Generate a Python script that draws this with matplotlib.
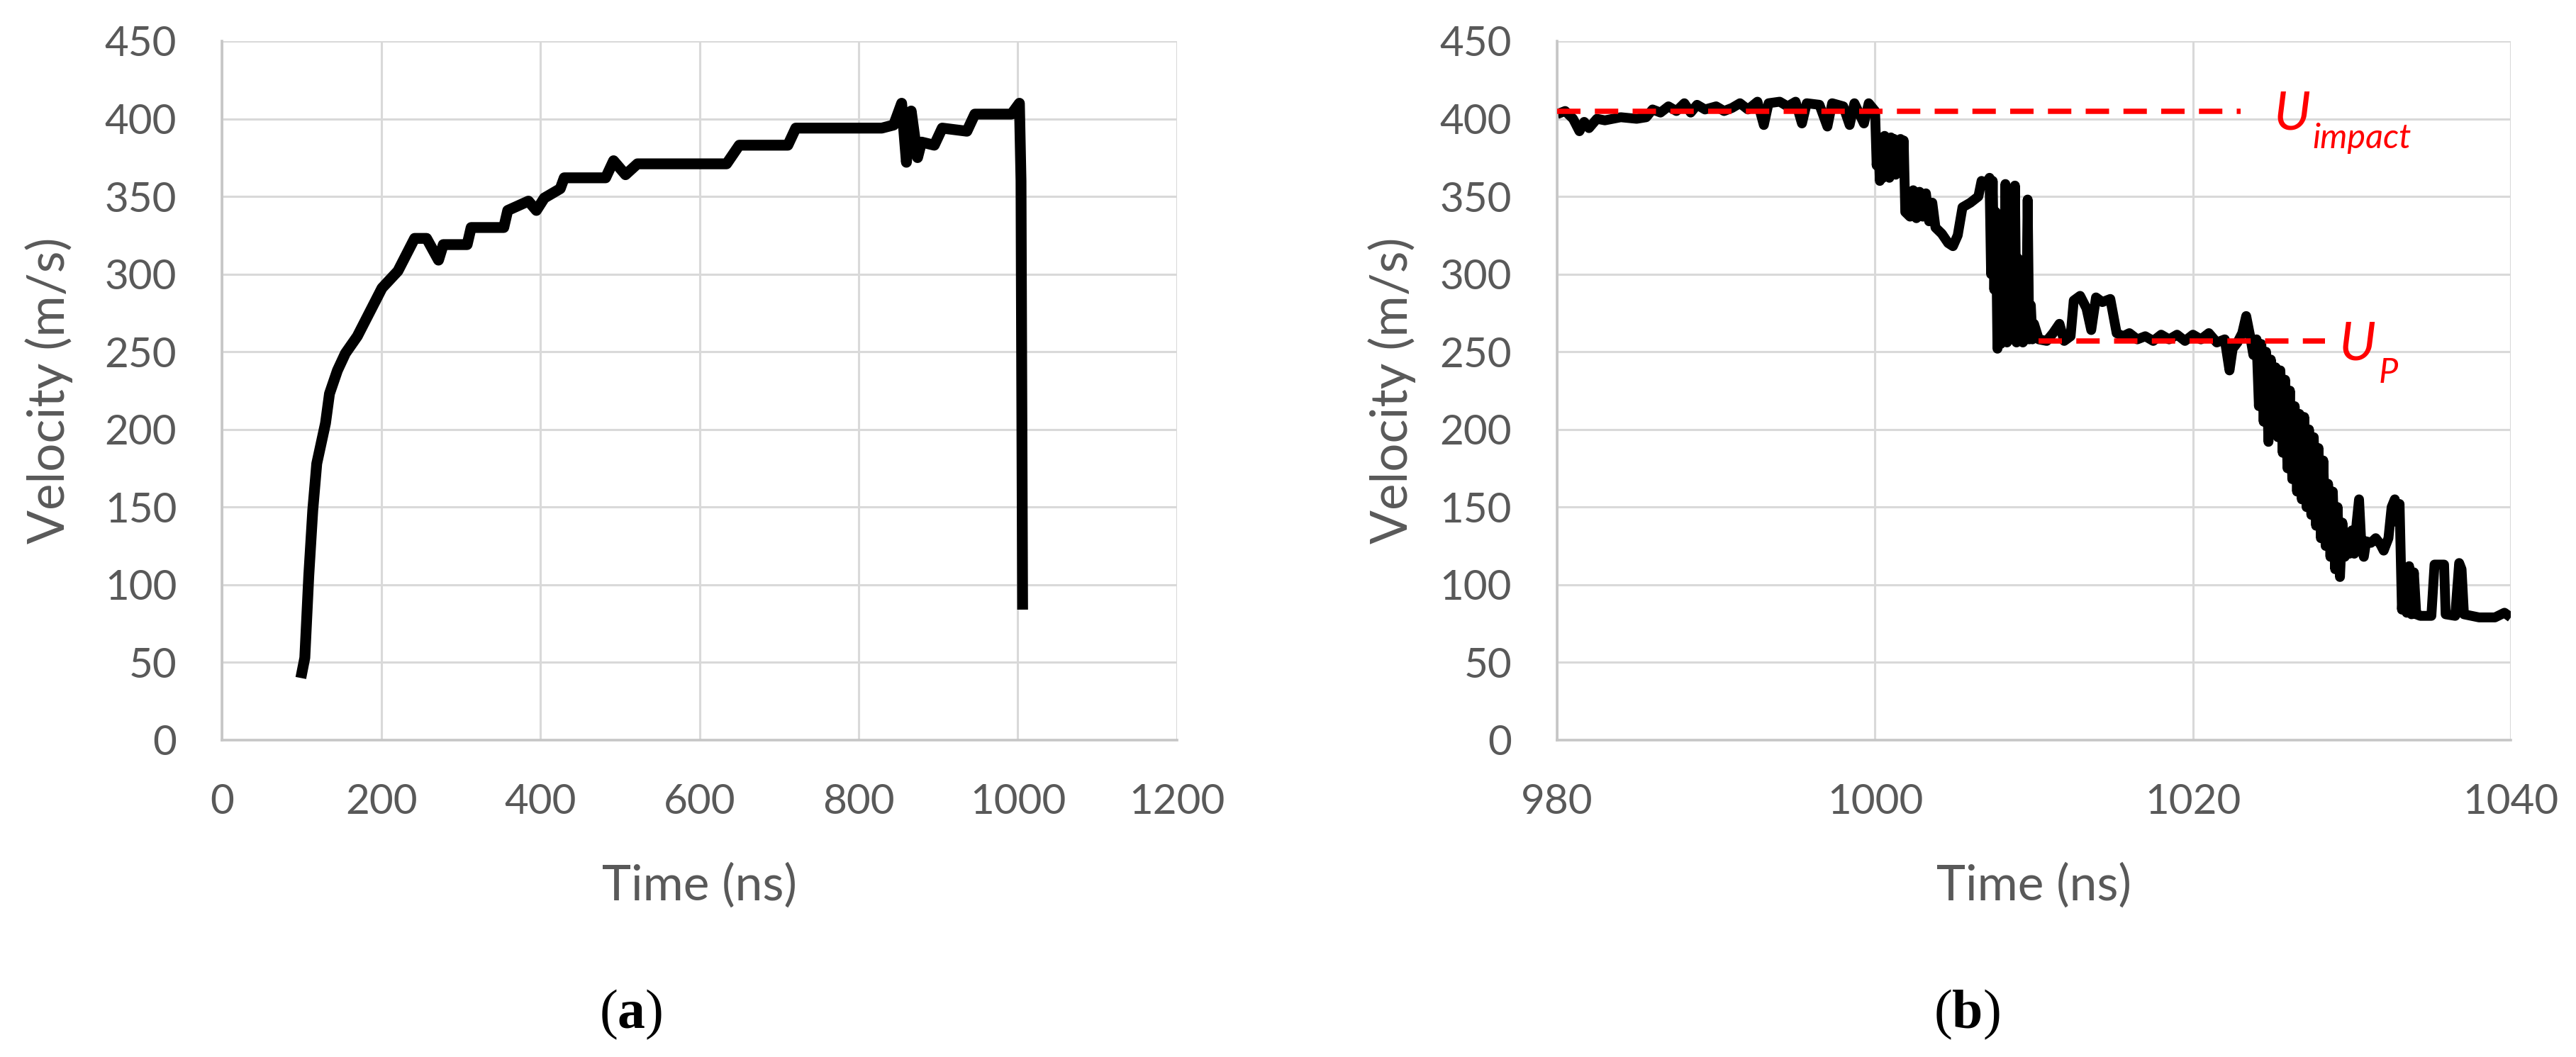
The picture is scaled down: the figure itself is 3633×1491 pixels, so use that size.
import matplotlib
matplotlib.use("Agg")
import matplotlib.pyplot as plt
from matplotlib import font_manager

names = {f.name for f in font_manager.fontManager.ttflist}
main_font = 'Lato'
for cand in ['Liberation Sans Narrow', 'Lato']:
    if cand in names:
        main_font = cand
        break

plt.rcParams['font.family'] = [main_font, 'DejaVu Sans']
plt.rcParams['mathtext.fontset'] = 'custom'
plt.rcParams['mathtext.rm'] = 'Liberation Serif'
plt.rcParams['mathtext.bf'] = 'Liberation Serif:bold'

# (a) full run
time_a = [99, 104, 109, 114, 119, 130, 135, 145, 155, 170, 186, 201, 221, 232, 242, 257,
          272, 278, 308, 313, 354, 359, 385, 395, 405, 425, 430, 482, 492, 507, 522, 634,
          650, 711, 721, 829, 844, 854, 860, 866, 874, 879, 895, 905, 936, 946, 992, 1002,
          1004, 1006]
vel_a = [40, 53, 106, 148, 178, 204, 223, 238, 249, 260, 276, 291, 302, 313, 323, 323,
         309, 319, 319, 330, 330, 341, 347, 341, 349, 355, 362, 362, 373, 364, 371, 371,
         383, 383, 394, 394, 396, 410, 372, 405, 375, 385, 383, 394, 392, 403, 403, 410,
         360, 84]

# (b) close-up around impact
time_b = [980.0, 980.5, 981.0, 981.4, 981.7, 982.0, 982.5, 983.0, 984.0, 985.0, 985.6, 986.0,
          986.5, 987.0, 987.5, 988.0, 988.4, 988.8, 989.3, 990.0, 990.5, 991.0, 991.5, 992.0,
          992.6, 993.0, 993.3, 994.0, 994.5, 995.0, 995.4, 995.7, 996.5, 997.0, 997.3, 998.0,
          998.4, 998.7, 999.3, 999.6,
          1000.0, 1000.1, 1000.2, 1000.3, 1000.4, 1000.5, 1000.6, 1000.7, 1000.8, 1000.9,
          1001.0, 1001.1, 1001.2, 1001.3, 1001.4, 1001.5, 1001.6, 1001.7, 1001.8, 1001.9,
          1002.2, 1002.4, 1002.6, 1002.8, 1003.0, 1003.2, 1003.4, 1003.6, 1003.8, 1004.2, 1004.6, 1004.9,
          1005.2, 1005.5, 1006.0, 1006.5, 1006.7, 1007.0, 1007.2,
          1007.3, 1007.4, 1007.5, 1007.6, 1007.7, 1007.8, 1007.9, 1008.0, 1008.1, 1008.2,
          1008.3, 1008.4, 1008.5, 1008.6, 1008.7, 1008.8, 1008.9, 1009.0, 1009.1, 1009.2,
          1009.3, 1009.4, 1009.5, 1009.6, 1009.7, 1009.8, 1009.9, 1010.0,
          1010.3, 1010.8, 1011.2, 1011.6, 1011.9, 1012.3, 1012.5, 1012.9, 1013.3, 1013.6, 1013.9, 1014.3,
          1014.8, 1015.2, 1015.6, 1016.0, 1016.5, 1017.0, 1017.5, 1018.0, 1018.5, 1019.0, 1019.5, 1020.0,
          1020.5, 1021.0, 1021.5, 1022.0, 1022.3, 1022.5, 1022.8, 1023.1, 1023.35, 1023.6, 1023.8,
          1024.0, 1024.15, 1024.3, 1024.45, 1024.6, 1024.75, 1024.9, 1025.05, 1025.2, 1025.35,
          1025.5, 1025.65, 1025.8, 1025.95, 1026.1, 1026.25, 1026.4, 1026.55, 1026.7, 1026.85,
          1027.0, 1027.15, 1027.3, 1027.45, 1027.6, 1027.75, 1027.9, 1028.05, 1028.2, 1028.35,
          1028.5, 1028.65, 1028.8, 1028.95, 1029.1, 1029.25, 1029.4, 1029.55, 1029.7, 1029.85,
          1030.0, 1030.15, 1030.3, 1030.45, 1030.6, 1030.75, 1030.9, 1031.2, 1031.5, 1031.8,
          1032.0, 1032.3, 1032.5, 1032.7, 1032.9, 1033.0, 1033.15, 1033.3, 1033.45, 1033.6,
          1033.75, 1033.9, 1034.05, 1034.3, 1035.0, 1035.2, 1035.5, 1035.8, 1035.9, 1036.5,
          1036.75, 1036.9, 1037.05, 1038.0, 1039.0, 1039.6, 1040.0]
vel_b = [403, 405, 400, 392, 398, 394, 400, 399, 401, 400, 401, 406,
         404, 408, 405, 410, 404, 409, 406, 408, 405, 407, 410, 406,
         411, 396, 410, 411, 408, 411, 397, 410, 409, 395, 410, 408,
         396, 410, 397, 410,
         405, 370, 388, 360, 386, 362, 389, 365, 386, 362,
         388, 366, 387, 364, 386, 368, 387, 370, 386, 340,
         337, 354, 336, 353, 337, 352, 334, 346, 330, 326, 320, 318,
         325, 343, 346, 350, 360, 358, 362,
         300, 360, 290, 340, 252, 320, 255, 310, 258, 358,
         256, 320, 258, 330, 258, 357, 256, 310, 258, 300,
         256, 290, 258, 348, 258, 280, 258, 268,
         258, 257, 262, 268, 257, 260, 283, 286, 278, 264, 285, 282,
         284, 262, 260, 262, 258, 260, 257, 261, 258, 261, 257, 261,
         258, 262, 256, 258, 238, 252, 256, 262, 273, 260, 248,
         258, 215, 255, 205, 250, 192, 245, 200, 240, 195,
         238, 185, 232, 175, 225, 168, 215, 160, 210, 155,
         208, 150, 200, 145, 195, 138, 188, 130, 180, 125,
         165, 118, 160, 110, 150, 105, 140, 118, 132, 120,
         135, 120, 140, 155, 125, 118, 128, 127, 130, 126,
         122, 130, 150, 155, 140, 152, 84, 110, 82, 112,
         81, 108, 81, 80, 80, 113, 113, 113, 81, 80,
         114, 110, 81, 79, 79, 82, 79]

u_impact = 405
u_p = 257
impact_span = [980, 1023]
up_span = [1010.3, 1028.3]

text_grey = '#595959'
grid_grey = '#d9d9d9'
red = '#ff0000'


def style_axes(ax, xlim, xticks, label_x):
    ax.set_xlim(xlim)
    ax.set_ylim(0, 450)
    ax.set_xticks(xticks)
    ax.set_yticks(range(0, 451, 50))
    ax.grid(True, color=grid_grey, lw=2.2)
    ax.set_axisbelow(True)
    for side in ['top', 'right']:
        ax.spines[side].set_visible(False)
    for side in ['left', 'bottom']:
        ax.spines[side].set_color('#c6c6c6')
        ax.spines[side].set_linewidth(2.6)
    ax.tick_params(length=0, labelsize=42, colors=text_grey)
    ax.tick_params(axis='x', pad=44)
    ax.tick_params(axis='y', pad=46)
    ax.set_xlabel('Time (ns)', fontsize=50, color=text_grey)
    ax.set_ylabel('Velocity (m/s)', fontsize=51, color=text_grey)
    ax.xaxis.set_label_coords(0.5, -0.208)
    ax.xaxis.label.set_va('center')
    ax.yaxis.set_label_coords(label_x, 0.5)
    ax.yaxis.label.set_va('center')


fig = plt.figure(figsize=(36.33, 14.91), dpi=100)
ax1 = fig.add_axes([0.0862, 0.2998, 0.3707, 0.6613])
ax2 = fig.add_axes([0.6045, 0.2998, 0.3702, 0.6613])

ax1.plot(time_a, vel_a, color='black', lw=11, solid_joinstyle='round', solid_capstyle='butt')
style_axes(ax1, (0, 1200), range(0, 1201, 200), -0.181)

ax2.plot(time_b, vel_b, color='black', lw=10, solid_joinstyle='round', solid_capstyle='butt')
ax2.plot(impact_span, [u_impact, u_impact], color=red, lw=5.4, ls=(0, (4.4, 2.7)), zorder=4)
ax2.plot(up_span, [u_p, u_p], color=red, lw=5.4, ls=(0, (4.4, 2.7)), zorder=4)
ax2.text(1025.1, 393, 'U', color=red, fontsize=55, style='italic', va='baseline', ha='left')
ax2.text(1027.5, 381, 'impact', color=red, fontsize=35, style='italic', va='baseline', ha='left')
ax2.text(1029.2, 245, 'U', color=red, fontsize=55, style='italic', va='baseline', ha='left')
ax2.text(1031.7, 230, 'P', color=red, fontsize=35, style='italic', va='baseline', ha='left')
style_axes(ax2, (980, 1040), range(980, 1041, 20), -0.173)

fig.text(0.245, 0.040, r'($\mathbf{a}$)', family='Liberation Serif', fontsize=56, ha='center', va='center')
fig.text(0.7636, 0.040, r'($\mathbf{b}$)', family='Liberation Serif', fontsize=56, ha='center', va='center')

fig.savefig('out.png', dpi=100)
